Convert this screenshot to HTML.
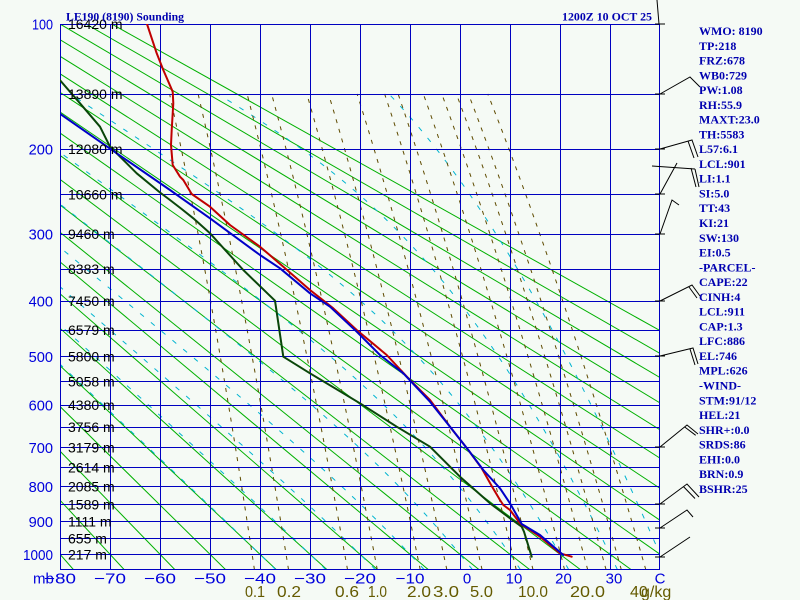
<!DOCTYPE html>
<html><head><meta charset="utf-8">
<style>
html,body{margin:0;padding:0;background:#f5faf5;width:800px;height:600px;overflow:hidden;}
svg{display:block;}
.st{font-family:"Liberation Serif",serif;font-weight:bold;font-size:12px;fill:#0000b0;}
.pl{font-family:"Liberation Sans",sans-serif;font-size:15px;fill:#0000dc;}
.tl{font-family:"Liberation Sans",sans-serif;font-size:15px;fill:#0000dc;}
.hl{font-family:"Liberation Sans",sans-serif;font-size:14px;fill:#000;}
.ml{font-family:"Liberation Sans",sans-serif;font-size:16px;fill:#645a00;}
</style></head><body>
<svg id="s" width="800" height="600" viewBox="0 0 800 600" xmlns="http://www.w3.org/2000/svg">
<rect width="800" height="600" fill="#f5faf5"/>
<defs><clipPath id="c"><rect x="60" y="24" width="600" height="546"/></clipPath></defs>
<g id="dry" clip-path="url(#c)" stroke="#00b000" stroke-width="1" fill="none">
<path d="M-405.86,24L73.58,569.75"/>
<path d="M-380.0,24L124.29,569.75"/>
<path d="M-354.1,24L174.99,569.75"/>
<path d="M-328.2,24L225.69,569.75"/>
<path d="M-302.3,24L276.40,569.75"/>
<path d="M-276.5,24L327.10,569.75"/>
<path d="M-250.6,24L377.80,569.75"/>
<path d="M-224.7,24L428.50,569.75"/>
<path d="M-198.8,24L479.21,569.75"/>
<path d="M-172.9,24L529.91,569.75"/>
<path d="M-147.1,24L580.61,569.75"/>
<path d="M-121.2,24L631.32,569.75"/>
<path d="M-95.3,24L682.02,569.75"/>
<path d="M-69.4,24L732.72,569.75"/>
<path d="M-43.6,24L783.43,569.75"/>
<path d="M-17.7,24L834.13,569.75"/>
<path d="M8.2,24L884.83,569.75"/>
<path d="M34.1,24L935.53,569.75"/>
<path d="M60.0,24L986.24,569.75"/>
<path d="M85.9,24L1036.94,569.75"/>
<path d="M111.7,24L1087.65,569.75"/>
</g>
<g id="moist" clip-path="url(#c)" stroke="#00b4d0" stroke-width="1" fill="none" stroke-dasharray="5 9"></g>
<g id="mix" clip-path="url(#c)" stroke="#5f4b00" stroke-width="1" fill="none" stroke-dasharray="4 6"></g>

<!-- grid -->
<g fill="#0000c0">
<rect x="60" y="24" width="1" height="546"/>
<rect x="110" y="24" width="1" height="546"/>
<rect x="160" y="24" width="1" height="546"/>
<rect x="210" y="24" width="1" height="546"/>
<rect x="260" y="24" width="1" height="546"/>
<rect x="310" y="24" width="1" height="546"/>
<rect x="360" y="24" width="1" height="546"/>
<rect x="410" y="24" width="1" height="546"/>
<rect x="460" y="24" width="1" height="546"/>
<rect x="510" y="24" width="1" height="546"/>
<rect x="560" y="24" width="1" height="546"/>
<rect x="610" y="24" width="1" height="546"/>
<rect x="659" y="24" width="1" height="546"/>
<rect x="60" y="24" width="600" height="1"/>
<rect x="60" y="94" width="600" height="1"/>
<rect x="60" y="149" width="600" height="1"/>
<rect x="60" y="194" width="600" height="1"/>
<rect x="60" y="234" width="600" height="1"/>
<rect x="60" y="269" width="600" height="1"/>
<rect x="60" y="301" width="600" height="1"/>
<rect x="60" y="330" width="600" height="1"/>
<rect x="60" y="356" width="600" height="1"/>
<rect x="60" y="381" width="600" height="1"/>
<rect x="60" y="405" width="600" height="1"/>
<rect x="60" y="427" width="600" height="1"/>
<rect x="60" y="447" width="600" height="1"/>
<rect x="60" y="467" width="600" height="1"/>
<rect x="60" y="486" width="600" height="1"/>
<rect x="60" y="504" width="600" height="1"/>
<rect x="60" y="521" width="600" height="1"/>
<rect x="60" y="538" width="600" height="1"/>
<rect x="60" y="554" width="600" height="1"/>
<rect x="60" y="569" width="600" height="1"/>
</g>

<g clip-path="url(#c)" fill="none" stroke-width="2" stroke-linejoin="round" stroke-linecap="round">
<polyline stroke="#0a460a" points="50,68.6 60.7,81 80,103.3 100,126.7 110,146.7 126.7,163.3 136.7,173.3 160,192.5 170,200 181,208.5 193.3,218.3 210,233.3 243.3,270 275,300.7 283.3,356.7 310,373.3 360,403.3 396.7,426.7 430,446.7 460,476.7 490,503.3 510,518.3 521.7,526.7 524,531.7 531.7,556.7"/>
<polyline stroke="#c00000" points="147,24 156.7,53.3 163.3,70 172.7,91.7 173.3,103.3 171.7,130 171,145 172.7,165 180,176.7 183.3,180 191.7,194 210,206.7 230,225 260,246.7 283.3,266.7 310,290 333.3,308.3 356.7,330 386.7,355 410,380 430,400 450,426.7 468.3,450 481.7,468.3 491.7,486 500,500 503.3,505 510,510 520,523.3 540,536.7 560,553.3 571.7,556.7"/>
<polyline stroke="#0000c8" points="40,100 60.7,114.3 116.7,153.3 170,190 210,218.3 260,255 280,268.3 310,293.3 330,306.7 356.7,331.7 380,355 403.3,373.3 430,401.7 450,426.7 468.3,450 483.3,470 500,488.3 510,503.3 521.7,524 540,535 563.3,555"/>
</g>

<!-- wind barbs -->
<g stroke="#000" stroke-width="1" fill="none">
<path d="M655,24H665M659,24L657,0"/>
<path d="M655,94H665M660,94L690,77L700,87"/>
<path d="M655,149H665M660,149L692,140L698,157M688,141L694,158"/>
<path d="M652,166L695,169M691,168L696,187M695,169L699,187"/>
<path d="M655,194H665M660,194L677,163"/>
<path d="M655,234H665M660,234L672,200L679,205"/>
<path d="M655,301H665M660,301L692,285L700,296M689,287L697,298"/>
<path d="M655,356H665M660,356L693,348L698,364M690,349L695,365"/>
<path d="M655,447H665M660,447L687,425L698,434M684.7,427L695.7,435.3"/>
<path d="M655,504H665M660,504L687,484L699,497M683.5,486.6L695,498.5"/>
<path d="M655,528H665M660,528L687,510L693,517"/>
<path d="M655,557H665M660,557L690,537"/>
</g>

<!-- height labels -->
<g class="hl">
<text x="68" y="29">16420 m</text>
<text x="68" y="99">13890 m</text>
<text x="68" y="154">12080 m</text>
<text x="68" y="199.5">10660 m</text>
<text x="68" y="239">9460 m</text>
<text x="68" y="274">8383 m</text>
<text x="68" y="306">7450 m</text>
<text x="68" y="335">6579 m</text>
<text x="68" y="361.6">5800 m</text>
<text x="68" y="386.5">5058 m</text>
<text x="68" y="410">4380 m</text>
<text x="68" y="432">3756 m</text>
<text x="68" y="452.7">3179 m</text>
<text x="68" y="472.5">2614 m</text>
<text x="68" y="491.3">2085 m</text>
<text x="68" y="509.4">1589 m</text>
<text x="68" y="526.7">1111 m</text>
<text x="68" y="543.3">655 m</text>
<text x="68" y="559.3">217 m</text>
</g>

<!-- pressure labels -->
<g class="pl" text-anchor="end">
<text x="53" y="29.5" textLength="21" lengthAdjust="spacingAndGlyphs">100</text>
<text x="53" y="154.3" textLength="24.4" lengthAdjust="spacingAndGlyphs">200</text>
<text x="53" y="239.5" textLength="24.4" lengthAdjust="spacingAndGlyphs">300</text>
<text x="53" y="306.4" textLength="24.4" lengthAdjust="spacingAndGlyphs">400</text>
<text x="53" y="362.1" textLength="24.4" lengthAdjust="spacingAndGlyphs">500</text>
<text x="53" y="410.4" textLength="24.4" lengthAdjust="spacingAndGlyphs">600</text>
<text x="53" y="453.2" textLength="24.4" lengthAdjust="spacingAndGlyphs">700</text>
<text x="53" y="491.8" textLength="24.4" lengthAdjust="spacingAndGlyphs">800</text>
<text x="53" y="527.2" textLength="24.4" lengthAdjust="spacingAndGlyphs">900</text>
<text x="53" y="559.8" textLength="30" lengthAdjust="spacingAndGlyphs">1000</text>
</g>

<!-- temperature labels -->
<g class="tl">
<text x="33" y="583.5">mb</text>
<text x="60" y="583.5" text-anchor="middle" textLength="32" lengthAdjust="spacingAndGlyphs">−80</text>
<text x="110" y="583.5" text-anchor="middle" textLength="32" lengthAdjust="spacingAndGlyphs">−70</text>
<text x="160" y="583.5" text-anchor="middle" textLength="32" lengthAdjust="spacingAndGlyphs">−60</text>
<text x="210" y="583.5" text-anchor="middle" textLength="32" lengthAdjust="spacingAndGlyphs">−50</text>
<text x="260" y="583.5" text-anchor="middle" textLength="32" lengthAdjust="spacingAndGlyphs">−40</text>
<text x="310" y="583.5" text-anchor="middle" textLength="32" lengthAdjust="spacingAndGlyphs">−30</text>
<text x="360" y="583.5" text-anchor="middle" textLength="32" lengthAdjust="spacingAndGlyphs">−20</text>
<text x="410" y="583.5" text-anchor="middle" textLength="29" lengthAdjust="spacingAndGlyphs">−10</text>
<text x="467" y="583.5" text-anchor="middle">0</text>
<text x="514" y="583.5" text-anchor="middle">10</text>
<text x="563.5" y="583.5" text-anchor="middle">20</text>
<text x="614" y="583.5" text-anchor="middle">30</text>
<text x="660" y="583.5" text-anchor="middle">C</text>
</g>

<!-- mixing ratio labels -->
<g class="ml">
<text x="245" y="597" textLength="20" lengthAdjust="spacingAndGlyphs">0.1</text>
<text x="277" y="597" textLength="24" lengthAdjust="spacingAndGlyphs">0.2</text>
<text x="335" y="597" textLength="24" lengthAdjust="spacingAndGlyphs">0.6</text>
<text x="368" y="597" textLength="19" lengthAdjust="spacingAndGlyphs">1.0</text>
<text x="407" y="597" textLength="24" lengthAdjust="spacingAndGlyphs">2.0</text>
<text x="433" y="597" textLength="26" lengthAdjust="spacingAndGlyphs">3.0</text>
<text x="470" y="597" textLength="23" lengthAdjust="spacingAndGlyphs">5.0</text>
<text x="518" y="597" textLength="30" lengthAdjust="spacingAndGlyphs">10.0</text>
<text x="570" y="597" textLength="35" lengthAdjust="spacingAndGlyphs">20.0</text>
<text x="630" y="597">40</text>
<text x="641" y="597">g/kg</text>
</g>

<!-- title -->
<text class="st" x="66" y="20.5" textLength="118" lengthAdjust="spacingAndGlyphs">LE190 (8190) Sounding</text>
<text class="st" x="562" y="20.5" textLength="90" lengthAdjust="spacingAndGlyphs">1200Z 10 OCT 25</text>

<!-- stats -->
<g class="st">
<text x="699" y="35">WMO: 8190</text>
<text x="699" y="49.8">TP:218</text>
<text x="699" y="64.5">FRZ:678</text>
<text x="699" y="79.3">WB0:729</text>
<text x="699" y="94.1">PW:1.08</text>
<text x="699" y="108.9">RH:55.9</text>
<text x="699" y="123.6">MAXT:23.0</text>
<text x="699" y="138.4">TH:5583</text>
<text x="699" y="153.2">L57:6.1</text>
<text x="699" y="167.9">LCL:901</text>
<text x="699" y="182.7">LI:1.1</text>
<text x="699" y="197.5">SI:5.0</text>
<text x="699" y="212.2">TT:43</text>
<text x="699" y="227">KI:21</text>
<text x="699" y="241.8">SW:130</text>
<text x="699" y="256.6">EI:0.5</text>
<text x="699" y="271.3">-PARCEL-</text>
<text x="699" y="286.1">CAPE:22</text>
<text x="699" y="300.9">CINH:4</text>
<text x="699" y="315.6">LCL:911</text>
<text x="699" y="330.4">CAP:1.3</text>
<text x="699" y="345.2">LFC:886</text>
<text x="699" y="359.9">EL:746</text>
<text x="699" y="374.7">MPL:626</text>
<text x="699" y="389.5">-WIND-</text>
<text x="699" y="404.3">STM:91/12</text>
<text x="699" y="419">HEL:21</text>
<text x="699" y="433.8">SHR+:0.0</text>
<text x="699" y="448.6">SRDS:86</text>
<text x="699" y="463.3">EHI:0.0</text>
<text x="699" y="478.1">BRN:0.9</text>
<text x="699" y="492.9">BSHR:25</text>
</g>
</svg>
<script>
(function(){
var NS="http://www.w3.org/2000/svg";
var K=0.286,P0k=Math.pow(100,K),P1k=Math.pow(1000,K);
var SC=530.3/(P1k-P0k);
function Y(p){return 24+SC*(Math.pow(p,K)-P0k);}
function X(t){return 460+5*t;}
function path(g,d){var e=document.createElementNS(NS,"path");e.setAttribute("d",d);g.appendChild(e);}
function pts2d(a){var s="";for(var i=0;i<a.length;i++){s+=(i?"L":"M")+X(a[i][1]).toFixed(2)+","+Y(a[i][0]).toFixed(2);}return s;}
function es(tc){return 6.112*Math.exp(17.67*tc/(tc+243.5));}
function rs(tk,p){var e=es(tk-273.15);return 0.622*e/(p-e);}
function f(T,p){var r=rs(T,p);return (287.04*T+2.501e6*r)/(1005.7+2.501e6*2.501e6*r*0.622/(287.04*T*T))/p;}
function rk(T,p,h){var k1=f(T,p),k2=f(T+h*k1/2,p+h/2),k3=f(T+h*k2/2,p+h/2),k4=f(T+h*k3,p+h);return T+h*(k1+2*k2+2*k3+k4)/6;}
var moist=document.getElementById("moist");
for(var t0=-40;t0<=40;t0+=10){
 var up=[],dn=[],T=t0+273.15,pp=1000;up.push([pp,T-273.15]);
 while(pp>150){T=rk(T,pp,-5);pp-=5;up.push([pp,T-273.15]);}
 T=t0+273.15;pp=1000;
 while(pp<1050){T=rk(T,pp,5);pp+=5;dn.push([pp,T-273.15]);}
 path(moist,pts2d(dn.reverse().concat(up)));}
var mix=document.getElementById("mix");
[0.1,0.2,0.6,1,2,3,5,8,10,15,20,25,30,40].forEach(function(w){
 var a=[];for(var p=1050;p>=150;p-=10){var e=w*p/(622+w);var L=Math.log(e/6.112);a.push([p,243.5*L/(17.67-L)]);}
 path(mix,pts2d(a));});
})();
</script>
</body></html>
